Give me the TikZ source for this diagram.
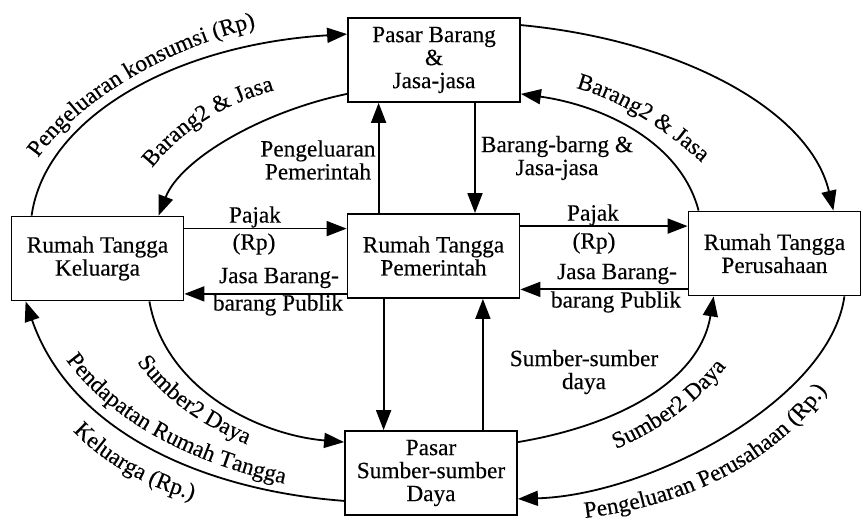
\documentclass[tikz,border=0pt]{standalone}
\usepackage{fontspec}
\setmainfont{Liberation Serif}[FakeBold=0.3]
\usetikzlibrary{arrows.meta,decorations.text}
\newcommand\lblfont{\fontsize{23.3}{23}\selectfont}

\begin{document}
\begin{tikzpicture}[x=1pt,y=-1pt,
  box/.style={draw, line width=1.8pt, minimum width=172pt, minimum height=84pt,
              inner sep=0pt, align=center, font=\lblfont},
  arr/.style={line width=1.8pt, -{Triangle[length=20pt,width=15pt]}},
  lbl/.style={inner sep=0pt, align=center, font=\lblfont},
  curvetext/.style={decorate, decoration={text along path, text align=left,
              text={|\lblfont|#1}}}
]
\useasboundingbox (0,0) rectangle (863,529);

% markets and households
\node[box] (pbj) at (434,60)      {Pasar Barang\\\&\\Jasa-jasa};
\node[box] (rtk) at (97.5,258.5)  {Rumah Tangga\\Keluarga};
\node[box] (rtp) at (433.5,256)   {Rumah Tangga\\Pemerintah};
\node[box] (rtu) at (774.5,253.5) {Rumah Tangga\\Perusahaan};
\node[box] (pss) at (431,473)     {Pasar\\Sumber-sumber\\Daya};

% outer and inner loops at the top
\draw[arr] ([xshift=21pt]rtk.north west) .. controls (45,120) and (170,45) .. ([yshift=-17pt]pbj.north west);
\draw[arr] ([yshift=9pt]pbj.south west) .. controls (260,112) and (180,160) .. ([xshift=148pt]rtk.north west);
\draw[arr] ([yshift=-8pt]pbj.north east) .. controls (680,40) and (810,110) .. ([xshift=-28pt]rtu.north east);
\draw[arr] ([xshift=11pt]rtu.north west) .. controls (680,140) and (600,105) .. ([yshift=9pt]pbj.south east);

% government links
\coordinate (g1) at ([xshift=32pt]rtp.north west);
\coordinate (g2) at ([xshift=41pt]pbj.south);
\coordinate (g3) at ([yshift=-13pt]rtk.north east);
\coordinate (g4) at ([yshift=5pt]rtp.south west);
\coordinate (g5) at ([yshift=-13pt]rtp.north east);
\coordinate (g6) at ([yshift=7pt]rtu.south west);
\coordinate (g7) at ([xshift=37pt]rtp.south west);
\coordinate (g8) at ([xshift=-35pt]pss.north east);
\draw[arr] (g1) -- (g1 |- pbj.south);
\draw[arr] (g2) -- (g2 |- rtp.north);
\draw[arr] (g3) -- (g3 -| rtp.west);
\draw[arr] (g4) -- (g4 -| rtk.east);
\draw[arr] (g5) -- (g5 -| rtu.west);
\draw[arr] (g6) -- (g6 -| rtp.east);
\draw[arr] (g7) -- (g7 |- pss.north);
\draw[arr] (g8) -- (g8 |- rtp.south);

% outer and inner loops at the bottom
\draw[arr] ([xshift=-35pt]rtk.south east) .. controls (165,390) and (260,435) .. ([yshift=-12pt]pss.north west);
\draw[arr] ([yshift=15pt]pss.south west) .. controls (200,490) and (70,430) .. ([xshift=15pt]rtk.south west);
\draw[arr] ([yshift=-12pt]pss.north east) .. controls (620,425) and (700,380) .. ([xshift=26pt]rtu.south west);
\draw[arr] ([xshift=-17pt]rtu.south east) .. controls (830,400) and (650,495) .. ([yshift=17pt]pss.south east);

% curved labels
\path[curvetext={Pengeluaran konsumsi (Rp)}] (38,158) .. controls (75,105) and (170,40) .. (290,20);
\path[curvetext={Barang2 {\&} Jasa}] (152,168) .. controls (185,128) and (225,100) .. (300,84);
\path[curvetext={Barang2 {\&} Jasa}] (576,88) .. controls (620,100) and (665,128) .. (712,172);
\path[curvetext={Sumber2 Daya}] (137,362) .. controls (165,400) and (200,425) .. (255,448);
\path[curvetext={Pendapatan Rumah Tangga}] (66,360) .. controls (110,420) and (190,465) .. (300,487);
\path[curvetext={Keluarga (Rp.)}] (73,431) .. controls (105,465) and (150,490) .. (215,506);
\path[curvetext={Sumber2 Daya}] (616,449) .. controls (660,430) and (705,400) .. (740,348);
\path[curvetext={Pengeluaran Perusahaan (Rp.)}] (585,518) .. controls (690,505) and (790,460) .. (845,362);

% straight labels
\node[lbl] (lpp)  at (318,160) {Pengeluaran\\Pemerintah};
\node[lbl] (lbj)  at (557,158) {Barang-barng \&\\Jasa-jasa};
\node[lbl] (lpj1) at (255,217) {Pajak};
\node[lbl] (lrp1) at (254,244) {(Rp)};
\node[lbl] (ljb1) at (279,278) {Jasa Barang-};
\node[lbl] (lbp1) at (278,305) {barang Publik};
\node[lbl] (lpj2) at (593,215) {Pajak};
\node[lbl] (lrp2) at (594,243) {(Rp)};
\node[lbl] (ljb2) at (617,274) {Jasa Barang-};
\node[lbl] (lbp2) at (616,302) {barang Publik};
\node[lbl] (lsd)  at (584,372) {Sumber-sumber\\daya};
\end{tikzpicture}
\end{document}
